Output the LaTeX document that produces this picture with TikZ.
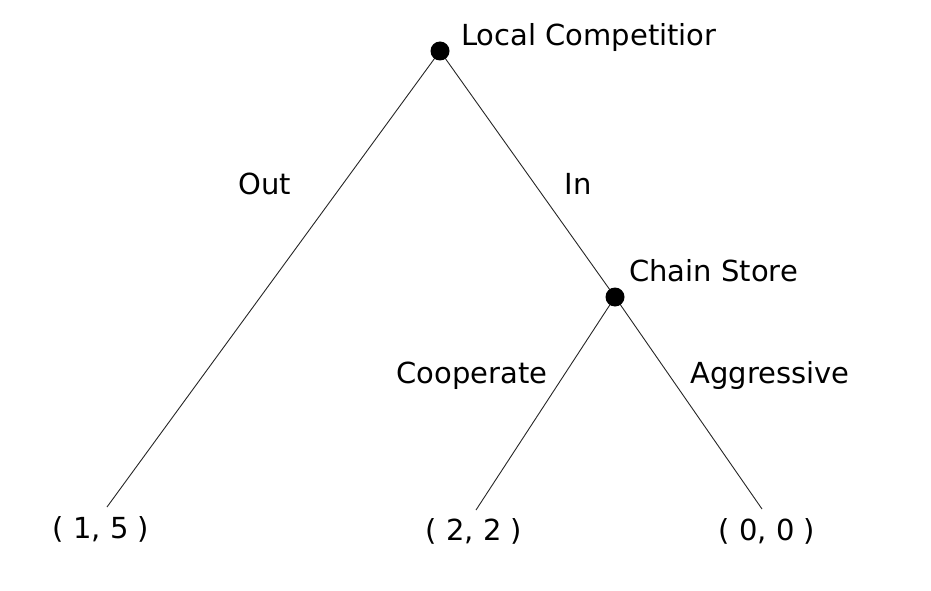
\documentclass[tikz,border=0pt]{standalone}
\usepackage{fontspec}
\setmainfont{DejaVu Sans}
\begin{document}
\begin{tikzpicture}[x=1pt,y=-1pt,
  lbl/.style={inner sep=0pt, anchor=base, font=\fontsize{29}{32}\selectfont},
  dot/.style={circle, fill=black, inner sep=0pt, minimum size=19pt},
  edge/.style={draw=black!85, line width=0.9pt}]
\useasboundingbox (0,0) rectangle (931,591);
\coordinate (root) at (440,51);
\coordinate (cs) at (615,297);
\coordinate (l1) at (107,507);
\coordinate (l2) at (476,510);
\coordinate (l3) at (762,509);
\draw[edge] (root) -- (l1);
\draw[edge] (root) -- (cs);
\draw[edge] (cs) -- (l2);
\draw[edge] (cs) -- (l3);
\node[dot] (rootdot) at (root) {};
\node[dot] (csdot) at (cs) {};
\node[lbl, anchor=base west] (tlc) at (461,46) {Local Competitior};
\node[lbl] (tout) at (265,194) {Out};
\node[lbl] (tin) at (578,194) {In};
\node[lbl, anchor=base west] (tcs) at (629,281) {Chain Store};
\node[lbl] (tco) at (472,383) {Cooperate};
\node[lbl] (tag) at (770,383) {Aggressive};
\node[lbl] (p1) at (101,538) {( 1, 5 )};
\node[lbl] (p2) at (474,540) {( 2, 2 )};
\node[lbl] (p3) at (767,540) {( 0, 0 )};
\end{tikzpicture}
\end{document}
